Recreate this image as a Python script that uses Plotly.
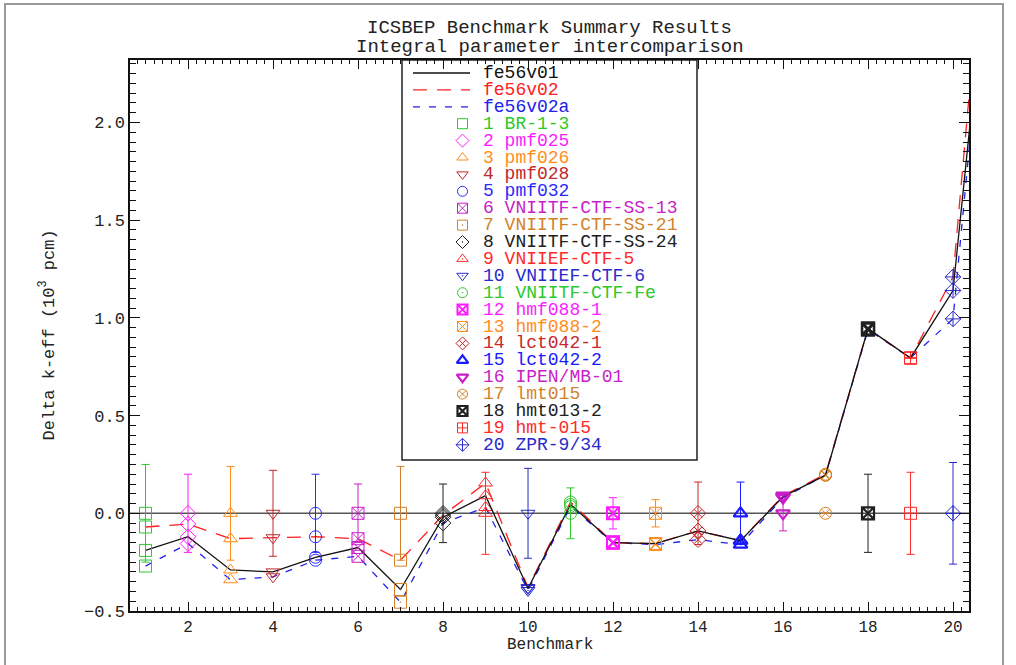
import plotly.graph_objects as go

# ---------------- data ----------------
bench_ids = list(range(1, 21))
bench_names = ["BR-1-3", "pmf025", "pmf026", "pmf028", "pmf032",
               "VNIITF-CTF-SS-13", "VNIITF-CTF-SS-21", "VNIITF-CTF-SS-24",
               "VNIIEF-CTF-5", "VNIIEF-CTF-6", "VNIITF-CTF-Fe",
               "hmf088-1", "hmf088-2", "lct042-1", "lct042-2",
               "IPEN/MB-01", "lmt015", "hmt013-2", "hmt-015", "ZPR-9/34"]
bench_colors = ["#2ec82e", "#ff1aff", "#ff8c1a", "#c0282a", "#2a2aff",
                "#c81ec8", "#d2822a", "#202020", "#ff2a2a", "#2a2acc",
                "#2ec82e", "#ff1aff", "#ff8c1a", "#c8282a", "#1a1aff",
                "#c81ec8", "#d2822a", "#202020", "#ff2a2a", "#2a2acc"]
bench_symbols = ["square-open", "diamond-open", "triangle-up-open", "triangle-down-open",
                 "circle-open", "square-x-open", "square-open-dot", "diamond-open-dot",
                 "triangle-up-open-dot", "triangle-down-open-dot", "circle-open-dot",
                 "square-x-open", "square-x-open", "diamond-x-open", "triangle-up-open",
                 "triangle-down-open", "circle-x-open", "square-x-open",
                 "square-cross-open", "diamond-cross-open"]
bench_mlw = [1, 1, 1, 1, 1, 1, 1, 1, 1, 1, 1, 2, 1, 1, 2.2, 2.2, 1, 2.2, 1, 1]

ref_value = [0.0] * 20
ref_unc = [0.25, 0.20, 0.24, 0.22, 0.20, 0.15, 0.24, 0.15, 0.21, 0.23,
           0.13, 0.08, 0.07, 0.16, 0.16, 0.09, 0.0, 0.20, 0.21, 0.26]

# library results (x = 1..21; the 21st benchmark lies beyond the plotted range)
lib_x = list(range(1, 22))
fe56v01 = [-0.19, -0.12, -0.29, -0.30, -0.225, -0.175, -0.39, -0.02, 0.09, -0.385,
           0.045, -0.15, -0.155, -0.09, -0.14, 0.085, 0.195, 0.945, 0.795, 1.14, 3.27]
fe56v02 = [-0.07, -0.055, -0.13, -0.125, -0.12, -0.13, -0.24, -0.01, 0.155, -0.38,
           0.058, -0.15, -0.155, -0.09, -0.14, 0.09, 0.20, 0.945, 0.795, 1.21, 3.66]
fe56v02a = [-0.27, -0.155, -0.34, -0.325, -0.24, -0.22, -0.455, -0.05, 0.03, -0.395,
            0.035, -0.15, -0.16, -0.135, -0.16, 0.08, 0.195, 0.94, 0.795, 0.995, 3.29]

lib_names = ["fe56v01", "fe56v02", "fe56v02a"]
lib_colors = ["#111111", "#ff2020", "#2020ee"]
lib_dash = ["solid", "14px,10px", "7px,9px"]

title_lines = ["ICSBEP Benchmark Summary Results", "Integral parameter intercomparison"]
x_title = "Benchmark"
y_title = "Delta k-eff (10<sup>3</sup> pcm)"

# ---------------- layout geometry (pixels) ----------------
W, H = 1016, 665
L, R, T, B = 130, 969, 60, 611
FONT = "Liberation Mono"


def px(x):
    return (x - L) / (R - L)


def py(y):
    return (B - y) / (B - T)


fig = go.Figure()

# library lines with benchmark markers (drawn blue, red, black so black is on top)
lib_vals = [fe56v01, fe56v02, fe56v02a]
for k in [2, 1, 0]:
    fig.add_trace(go.Scatter(
        x=lib_x, y=lib_vals[k], mode="lines+markers",
        line=dict(color=lib_colors[k], width=1.3, dash=lib_dash[k]),
        marker=dict(symbol=bench_symbols + ["circle-open"],
                    color=bench_colors + [lib_colors[k]],
                    size=12,
                    line=dict(width=bench_mlw + [1])),
        showlegend=False, hoverinfo="skip"))

# reference (benchmark) values with uncertainties
for i in range(20):
    fig.add_trace(go.Scatter(
        x=[bench_ids[i]], y=[ref_value[i]], mode="markers",
        marker=dict(symbol=bench_symbols[i], color=bench_colors[i], size=12,
                    line=dict(width=bench_mlw[i])),
        error_y=dict(type="data", array=[ref_unc[i]], color=bench_colors[i],
                     thickness=1, width=4),
        showlegend=False, hoverinfo="skip"))

# ---------------- manual legend ----------------
leg_x0, leg_x1, leg_y0, leg_y1 = 402, 697, 60, 460
row0, pitch = 73, 16.9
shapes = []
annotations = []
shapes.append(dict(type="rect", xref="paper", yref="paper",
                   x0=px(leg_x0), x1=px(leg_x1), y0=py(leg_y1), y1=py(leg_y0),
                   line=dict(color="#222222", width=1.5), fillcolor="white", layer="below"))
for k in range(3):
    yy = row0 + k * pitch
    shapes.append(dict(type="line", xref="paper", yref="paper",
                       x0=px(413), x1=px(470), y0=py(yy), y1=py(yy),
                       line=dict(color=lib_colors[k], width=1.3, dash=lib_dash[k]),
                       layer="above"))
    annotations.append(dict(text=lib_names[k], xref="paper", yref="paper",
                            x=px(481), y=py(yy), xanchor="left", yanchor="middle",
                            showarrow=False,
                            font=dict(family=FONT, size=18, color=lib_colors[k])))
leg_mx, leg_my = [], []
for i in range(20):
    yy = row0 + (i + 3) * pitch
    leg_mx.append(462.5)
    leg_my.append(yy)
    annotations.append(dict(text=f"{bench_ids[i]} {bench_names[i]}", xref="paper", yref="paper",
                            x=px(481), y=py(yy), xanchor="left", yanchor="middle",
                            showarrow=False,
                            font=dict(family=FONT, size=18, color=bench_colors[i])))
fig.add_trace(go.Scatter(
    x=leg_mx, y=leg_my, mode="markers", xaxis="x2", yaxis="y2",
    marker=dict(symbol=bench_symbols, color=bench_colors, size=10,
                line=dict(width=bench_mlw)),
    showlegend=False, hoverinfo="skip"))

# zero reference line
shapes.append(dict(type="line", xref="paper", yref="y", x0=0, x1=1, y0=0, y1=0,
                   line=dict(color="#555555", width=1.5), layer="below"))

# page frame
shapes.append(dict(type="rect", xref="paper", yref="paper",
                   x0=px(5), x1=px(1003), y0=py(700), y1=py(4),
                   line=dict(color="#999999", width=2), fillcolor="rgba(0,0,0,0)"))

# titles
for t, yy in zip(title_lines, [28, 47]):
    annotations.append(dict(text=t, xref="paper", yref="paper", x=0.5, y=py(yy),
                            xanchor="center", yanchor="middle", showarrow=False,
                            font=dict(family=FONT, size=19, color="#222222")))
annotations.append(dict(text=x_title, xref="paper", yref="paper", x=0.5, y=py(645),
                        xanchor="center", yanchor="middle", showarrow=False,
                        font=dict(family=FONT, size=16, color="#222222")))
annotations.append(dict(text=y_title, xref="paper", yref="paper", x=px(47), y=0.5,
                        xanchor="center", yanchor="middle", showarrow=False, textangle=-90,
                        font=dict(family=FONT, size=17, color="#222222")))

axis_common = dict(showgrid=False, zeroline=False, showline=True, linecolor="#111111",
                   linewidth=1.5, mirror="ticks", ticks="inside", tickcolor="#111111",
                   tickwidth=1)

fig.update_layout(
    width=W, height=H,
    margin=dict(l=L, r=W - R, t=T, b=H - B),
    paper_bgcolor="white", plot_bgcolor="white",
    xaxis=dict(range=[0.635, 20.376], tick0=0, dtick=2, ticklen=9,
               tickfont=dict(family=FONT, size=16, color="#222222"),
               minor=dict(dtick=0.2, tick0=0, ticklen=4, ticks="inside", tickcolor="#111111"),
               **axis_common),
    yaxis=dict(range=[-0.5, 2.32], tick0=0, dtick=0.5, tickformat=".1f", ticklen=10,
               tickfont=dict(family=FONT, size=17, color="#222222"),
               minor=dict(dtick=0.05, tick0=0, ticklen=6, ticks="inside", tickcolor="#111111"),
               **axis_common),
    xaxis2=dict(overlaying="x", range=[L, R], visible=False),
    yaxis2=dict(overlaying="y", range=[B, T], visible=False),
    shapes=shapes, annotations=annotations,
    showlegend=False,
)

fig.write_html("out.html")
